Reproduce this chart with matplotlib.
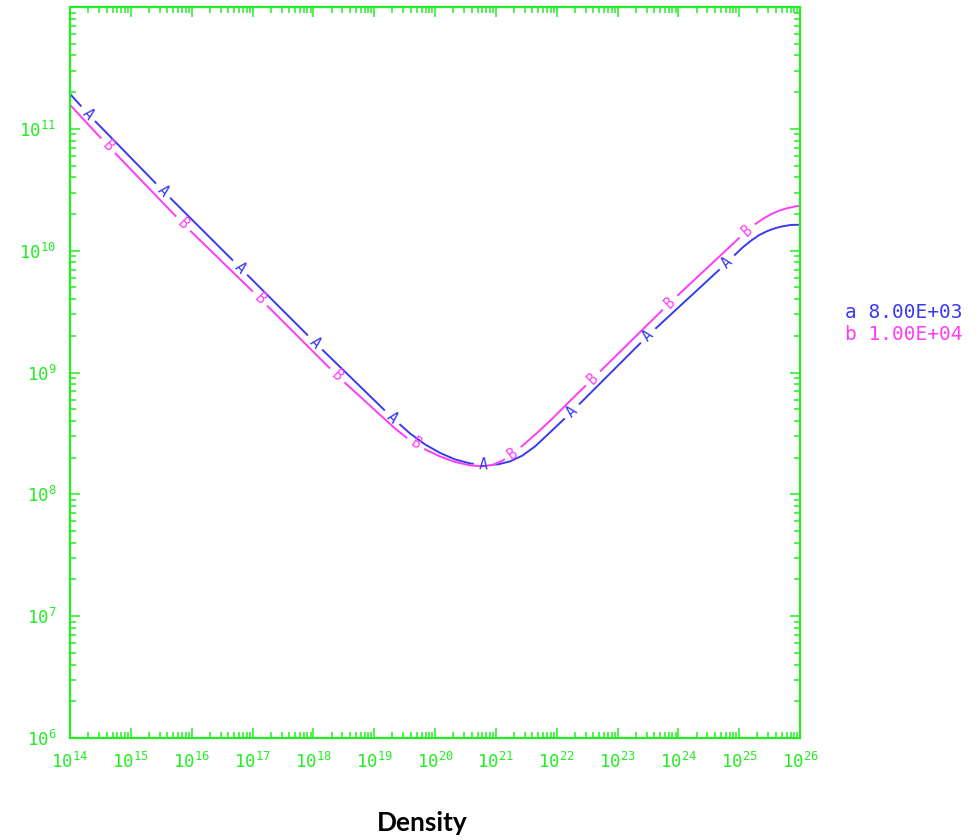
import numpy as np
import matplotlib
matplotlib.use('Agg')
import matplotlib.pyplot as plt
from matplotlib.ticker import LogLocator, FuncFormatter, NullFormatter
from matplotlib.patches import Circle
from matplotlib.transforms import Affine2D, ScaledTranslation

plt.rcParams['mathtext.fontset'] = 'custom'
plt.rcParams['mathtext.rm'] = 'DejaVu Sans Mono'
plt.rcParams['mathtext.it'] = 'DejaVu Sans Mono'
plt.rcParams['mathtext.bf'] = 'DejaVu Sans Mono'

# ---- data (log10 of density, log10 of value) ----
series_a_name = 'a 8.00E+03'
series_b_name = 'b 1.00E+04'

a_log_density = [14.000, 14.296, 15.529, 16.795, 18.027, 19.293, 19.589, 19.836,
                 20.082, 20.329, 20.575, 20.822, 21.036, 21.233, 21.430, 21.644,
                 21.890, 22.252, 23.501, 24.800, 24.932, 25.063, 25.195, 25.326,
                 25.458, 25.589, 25.721, 25.852, 26.000]
a_log_value = [11.287, 11.123, 10.492, 9.861, 9.246, 8.631, 8.500, 8.410,
               8.340, 8.287, 8.254, 8.242, 8.246, 8.270, 8.316, 8.393,
               8.508, 8.680, 9.303, 9.902, 9.967, 10.029, 10.082, 10.127,
               10.160, 10.184, 10.201, 10.211, 10.213]

b_log_density = [14.000, 14.625, 15.858, 17.123, 18.389, 19.342, 19.589, 19.836,
                 20.082, 20.329, 20.575, 20.773, 20.953, 21.118, 21.282, 21.463,
                 21.677, 21.907, 22.219, 22.597, 23.863, 25.129, 25.260, 25.392,
                 25.523, 25.655, 25.786, 25.918, 26.000]
b_log_value = [11.197, 10.861, 10.221, 9.607, 8.975, 8.541, 8.443, 8.369,
               8.311, 8.266, 8.238, 8.230, 8.242, 8.279, 8.336, 8.410,
               8.504, 8.611, 8.766, 8.951, 9.574, 10.164, 10.217, 10.262,
               10.299, 10.328, 10.348, 10.363, 10.367]

# inline curve-label positions (log10 density)
a_label_pos = [14.296, 15.529, 16.795, 18.027, 19.293, 20.800, 22.252, 23.501, 24.800]
b_label_pos = [14.625, 15.858, 17.123, 18.389, 19.680, 21.282, 22.597, 23.863, 25.129]

x_tick_exps = list(range(14, 27))
y_tick_exps = list(range(6, 12))

GREEN = '#22ee22'
BLUE = '#3a3af0'
MAGENTA = '#ff3cf5'

fig = plt.figure(figsize=(9.8, 8.4), dpi=100)
ax = fig.add_axes([70 / 980, 1 - 738 / 840, 730 / 980, 731 / 840])
ax.set_xscale('log')
ax.set_yscale('log')
ax.set_xlim(1e14, 1e26)
ax.set_ylim(1e6, 1e12)

for s in ax.spines.values():
    s.set_color(GREEN)
    s.set_linewidth(1.6)

ax.xaxis.set_major_locator(LogLocator(base=10, numticks=100))
ax.yaxis.set_major_locator(LogLocator(base=10, numticks=100))
ax.xaxis.set_minor_locator(LogLocator(base=10, subs=np.arange(2, 10), numticks=200))
ax.yaxis.set_minor_locator(LogLocator(base=10, subs=np.arange(2, 10), numticks=200))
ax.xaxis.set_minor_formatter(NullFormatter())
ax.yaxis.set_minor_formatter(NullFormatter())


def fmt_x(v, pos):
    e = int(round(np.log10(v)))
    return r'$10^{%d}$' % e if e in x_tick_exps else ''


def fmt_y(v, pos):
    e = int(round(np.log10(v)))
    return r'$10^{%d}$' % e if e in y_tick_exps else ''


ax.xaxis.set_major_formatter(FuncFormatter(fmt_x))
ax.yaxis.set_major_formatter(FuncFormatter(fmt_y))
ax.tick_params(which='both', direction='in', top=True, right=True,
               color=GREEN, labelcolor=GREEN, width=1.1)
ax.tick_params(which='major', length=7.5, labelsize=12.5, pad=10)
ax.tick_params(which='minor', length=4.3)


def draw_series(lx, ly, labels, letter, color, z):
    x = 10.0 ** np.array(lx)
    y = 10.0 ** np.array(ly)
    ax.plot(x, y, color=color, lw=1.4, zorder=z, solid_capstyle='butt')
    for p in labels:
        yl = np.interp(p, lx, ly)
        p0, p1 = p - 0.15, p + 0.15
        d0 = ax.transData.transform((10 ** p0, 10 ** np.interp(p0, lx, ly)))
        d1 = ax.transData.transform((10 ** p1, 10 ** np.interp(p1, lx, ly)))
        ang = np.degrees(np.arctan2(d1[1] - d0[1], d1[0] - d0[0]))
        gap, = ax.plot(x, y, color='white', lw=4, zorder=z + 0.05,
                       solid_capstyle='butt')
        circ = Circle((0, 0), radius=1,
                      transform=Affine2D().scale(10) +
                      ScaledTranslation(10 ** p, 10 ** yl, ax.transData))
        gap.set_clip_path(circ)
        ax.text(10 ** p, 10 ** yl, letter, color=color, fontsize=10.5,
                family='DejaVu Sans Mono', ha='center', va='center',
                rotation=ang, rotation_mode='anchor', zorder=5)


draw_series(a_log_density, a_log_value, a_label_pos, 'A', BLUE, 2.0)
draw_series(b_log_density, b_log_value, b_label_pos, 'B', MAGENTA, 2.2)

fig.text(845 / 980, 1 - 313 / 840, series_a_name, color=BLUE,
         family='DejaVu Sans Mono', fontsize=14, va='center', ha='left')
fig.text(845 / 980, 1 - 335 / 840, series_b_name, color=MAGENTA,
         family='DejaVu Sans Mono', fontsize=14, va='center', ha='left')

fig.text(422 / 980, 1 - 823 / 840, 'Density', color='black', family='Lato',
         fontweight='bold', fontsize=19, ha='center', va='center')

fig.savefig('out.png', dpi=100)
